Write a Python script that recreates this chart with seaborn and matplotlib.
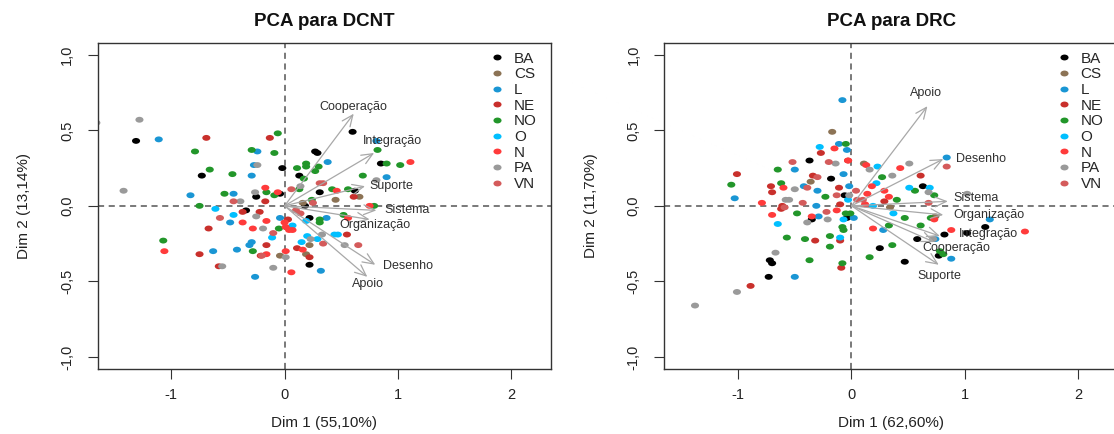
import matplotlib
matplotlib.use("Agg")
import matplotlib.pyplot as plt
from matplotlib.path import Path
from matplotlib.transforms import Affine2D
import matplotlib.ticker as mticker
import pandas as pd
import seaborn as sns

# ---- regions and colours ----
regions = ["BA", "CS", "L", "NE", "NO", "O", "N", "PA", "VN"]
region_colors = ["#000000", "#8C7355", "#1A96D4", "#C9302C", "#22962A",
                 "#00BFFF", "#FF3B3B", "#9A9A9A", "#D45B5B"]

# ---- individual scores, DCNT (Dim 1, Dim 2) ----
dcnt_BA = [(-1.31, 0.43), (-0.73, 0.20), (0.60, 0.49), (0.27, 0.36), (0.29, 0.35),
           (0.85, 0.28), (-0.02, 0.25), (0.13, 0.20), (-0.25, 0.06), (-0.04, 0.08),
           (0.31, 0.09), (0.62, 0.10), (-0.34, -0.03), (0.18, 0.00), (0.22, -0.08),
           (0.22, -0.39)]
dcnt_CS = [(0.45, 0.04), (0.66, 0.06), (0.16, 0.02), (0.22, -0.26), (-0.04, -0.33),
           (0.19, -0.32)]
dcnt_L = [(-1.11, 0.44), (-0.24, 0.36), (-0.27, 0.27), (-0.29, 0.20), (0.38, 0.29),
          (0.81, 0.43), (0.90, 0.19), (-0.83, 0.07), (-0.45, 0.08), (-0.48, -0.11),
          (-0.63, -0.30), (-0.42, -0.29), (-0.29, -0.24), (-0.31, -0.26), (-0.26, -0.47),
          (0.32, -0.43), (0.37, -0.08), (-0.04, -0.08)]
dcnt_NE = [(-0.69, 0.45), (-0.13, 0.45), (-0.17, 0.03), (-0.22, -0.04), (-0.37, -0.04),
           (-0.67, -0.15), (-0.75, -0.32), (-0.58, -0.40), (-0.16, -0.26), (-0.21, -0.33),
           (0.11, -0.28), (0.22, -0.34), (0.55, -0.19), (0.03, -0.09), (0.61, 0.06)]
dcnt_NO = [(-0.06, 0.48), (-0.79, 0.36), (-0.29, 0.37), (-0.09, 0.35), (-0.66, 0.24),
           (-0.46, 0.21), (0.82, 0.37), (0.90, 0.28), (1.02, 0.27), (0.69, 0.20),
           (0.19, 0.28), (0.19, 0.26), (0.11, 0.25), (0.30, 0.26), (0.27, 0.23),
           (0.17, 0.18), (-0.16, 0.09), (-0.09, 0.07), (-0.53, 0.08), (-0.75, 0.00),
           (0.24, 0.04), (0.56, 0.11), (0.42, 0.11), (0.79, 0.00), (0.31, -0.09),
           (0.31, -0.11), (0.52, -0.06), (0.13, 0.11), (-0.05, -0.15), (-1.07, -0.23),
           (-0.28, -0.30)]
dcnt_O = [(-0.61, -0.02), (-0.45, -0.06), (0.19, -0.10), (0.07, -0.13), (-0.11, -0.21),
          (0.15, -0.24), (0.29, -0.22), (0.44, -0.19), (0.47, -0.19), (0.20, -0.20)]
dcnt_N = [(1.11, 0.29), (0.46, 0.10), (0.56, -0.08), (0.75, 0.00), (-0.17, 0.12),
          (-0.06, 0.09), (-0.16, -0.10), (-0.37, -0.11), (-0.28, -0.15), (0.01, -0.14),
          (0.00, -0.11), (0.07, -0.16), (0.04, -0.16), (0.01, -0.30), (0.16, -0.29),
          (-0.16, -0.32), (0.06, -0.44), (-1.06, -0.30)]
dcnt_PA = [(-1.28, 0.57), (-1.66, 0.55), (-1.42, 0.10), (-0.24, 0.27), (-0.26, 0.09),
           (-0.39, 0.03), (-0.25, -0.07), (-0.19, -0.15), (0.14, 0.13), (0.81, 0.17),
           (0.23, -0.22), (0.33, -0.19), (0.53, -0.26), (0.01, -0.34), (-0.55, -0.40),
           (-0.10, -0.41)]
dcnt_VN = [(0.31, 0.15), (0.34, 0.15), (0.06, 0.11), (-0.45, 0.03), (-0.57, -0.08),
           (0.10, -0.03), (0.14, -0.05), (-0.10, -0.18), (0.34, -0.25), (0.65, -0.26),
           (-0.20, -0.33), (0.25, 0.02)]

# ---- individual scores, DRC (Dim 1, Dim 2) ----
drc_BA = [(-0.37, 0.30), (-0.18, 0.18), (-0.06, 0.07), (-0.35, -0.09), (-0.04, -0.08),
          (-0.72, -0.36), (-0.70, -0.38), (-0.73, -0.47), (0.63, 0.13), (0.82, -0.19),
          (1.02, -0.18), (1.18, -0.14), (0.58, -0.22), (0.25, -0.28), (0.47, -0.37),
          (0.77, -0.33)]
drc_CS = [(-0.17, 0.49), (-0.36, 0.16), (0.11, 0.28), (0.34, -0.01), (0.74, -0.07)]
drc_L = [(-0.08, 0.70), (-0.11, 0.41), (-0.04, 0.37), (-0.50, 0.24), (-0.07, 0.21),
         (-0.02, 0.13), (-0.30, 0.10), (-0.42, 0.13), (-1.03, 0.05), (-0.31, 0.00),
         (-0.29, -0.07), (0.02, -0.08), (-0.50, -0.47), (0.84, 0.32), (1.22, -0.09),
         (0.88, -0.35), (0.28, -0.16), (0.74, -0.22)]
drc_NE = [(-1.01, 0.21), (-0.27, 0.35), (-0.03, 0.30), (-0.34, 0.20), (-0.71, 0.13),
          (-0.70, 0.09), (-0.61, 0.00), (-0.62, -0.02), (-0.11, 0.12), (-0.10, 0.01),
          (-0.32, -0.23), (-0.10, -0.23), (-0.09, -0.41), (-0.89, -0.53), (0.61, 0.20),
          (0.29, 0.03)]
drc_NO = [(-1.06, 0.14), (-0.65, 0.24), (-0.62, 0.15), (-0.23, 0.06), (-0.05, 0.41),
          (-0.48, -0.05), (-0.57, -0.21), (-0.41, -0.22), (-0.19, -0.20), (-0.19, -0.27),
          (-0.37, -0.36), (-0.08, -0.14), (-0.07, -0.16), (-0.08, -0.38), (-0.05, -0.05),
          (-0.01, -0.05), (0.27, 0.19), (0.40, 0.04), (0.56, 0.10), (0.73, 0.07),
          (0.47, -0.08), (0.61, -0.13), (0.70, -0.08), (0.33, -0.13), (0.36, -0.26),
          (0.16, -0.34), (0.78, -0.30), (0.81, -0.32)]
drc_O = [(-0.28, 0.39), (0.23, 0.26), (0.22, 0.15), (-0.03, 0.04), (-0.65, -0.12),
         (-0.07, -0.09), (-0.10, -0.21), (0.19, 0.00), (0.51, 0.12), (0.69, 0.12),
         (0.37, -0.05)]
drc_N = [(-0.15, 0.38), (-0.03, 0.30), (0.13, 0.27), (-0.60, 0.12), (-0.79, 0.02),
         (-0.70, -0.06), (-0.35, -0.07), (-0.13, -0.03), (0.14, 0.08), (0.18, 0.13),
         (0.29, 0.10), (0.33, 0.06), (0.43, 0.25), (0.12, 0.01), (0.19, -0.15),
         (0.73, -0.09), (0.88, -0.16), (1.53, -0.17)]
drc_PA = [(-0.14, 0.28), (0.16, 0.24), (0.36, 0.20), (0.51, 0.28), (1.02, 0.08),
          (0.68, 0.09), (-0.50, 0.11), (-0.58, 0.04), (-0.55, 0.04), (-0.21, -0.09),
          (-0.39, -0.11), (-0.67, -0.31), (-1.01, -0.57), (-1.38, -0.66), (-0.02, 0.07),
          (0.72, -0.22)]
drc_VN = [(-0.52, 0.29), (-0.20, 0.29), (-0.30, 0.19), (-0.39, 0.12), (-0.43, 0.02),
          (-0.59, -0.01), (-0.13, 0.07), (0.04, 0.10), (-0.22, -0.04), (0.05, 0.04),
          (0.84, 0.26), (0.68, 0.02), (0.10, 0.04)]

# ---- variable loadings (arrows) ----
dcnt_vars = ["Cooperação", "Integração", "Suporte", "Sistema", "Organização", "Desenho", "Apoio"]
dcnt_dim1 = [0.61, 0.79, 0.71, 0.81, 0.75, 0.80, 0.73]
dcnt_dim2 = [0.61, 0.35, 0.13, -0.03, -0.09, -0.39, -0.47]

drc_vars = ["Apoio", "Desenho", "Sistema", "Organização", "Integração", "Cooperação", "Suporte"]
drc_dim1 = [0.67, 0.81, 0.85, 0.81, 0.78, 0.73, 0.77]
drc_dim2 = [0.66, 0.31, 0.03, -0.06, -0.20, -0.24, -0.39]

# label placement relative to the arrow tip, in pixels (right, up)
dcnt_label_offsets = [(0, 7), (18, 12), (26, 0), (31, 0), (5, -6), (33, -1), (1, -7)]
drc_label_offsets = [(-1, 13), (38, 0), (28, 3), (46, 0), (49, 2), (22, -6), (1, -11)]


def scores_frame(groups):
    rows = []
    for region, pts in zip(regions, groups):
        for d1, d2 in pts:
            rows.append({"Dim1": d1, "Dim2": d2, "Regiao": region})
    return pd.DataFrame(rows)


dcnt_scores = scores_frame([dcnt_BA, dcnt_CS, dcnt_L, dcnt_NE, dcnt_NO,
                            dcnt_O, dcnt_N, dcnt_PA, dcnt_VN])
drc_scores = scores_frame([drc_BA, drc_CS, drc_L, drc_NE, drc_NO,
                           drc_O, drc_N, drc_PA, drc_VN])

sns.set_style("white")
plt.rcParams["font.family"] = ["Liberation Sans", "DejaVu Sans"]

# slightly wide dots
dot = Path.unit_circle().transformed(Affine2D().scale(1.38, 1.0))

W, H = 1114, 434
fig = plt.figure(figsize=(W / 100, H / 100), dpi=100)
box_w = 453.5
ax_l = fig.add_axes([97.5 / W, 1 - 369 / H, box_w / W, (369 - 42.7) / H])
ax_r = fig.add_axes([664.4 / W, 1 - 369 / H, box_w / W, (369 - 42.7) / H])


def comma_fmt(v, _pos):
    return f"{v:.1f}".replace(".", ",")


def int_fmt(v, _pos):
    return f"{v:.0f}"


def draw_panel(ax, frame, names, d1, d2, offsets, title, xlab, ylab):
    ax.axhline(0, color="#555555", lw=1.1, ls=(0, (4, 3)), zorder=1)
    ax.axvline(0, color="#555555", lw=1.1, ls=(0, (4, 3)), zorder=1)
    sns.scatterplot(data=frame, x="Dim1", y="Dim2", hue="Regiao",
                    hue_order=regions, palette=region_colors, s=34,
                    marker=dot, linewidth=0, ax=ax, zorder=2)
    for name, x, y, (dx, dy) in zip(names, d1, d2, offsets):
        ax.annotate("", xy=(x, y), xytext=(0, 0),
                    arrowprops=dict(arrowstyle="->,head_length=0.8,head_width=0.35",
                                    color="#A8A8A8", lw=0.9, shrinkA=0, shrinkB=0,
                                    mutation_scale=10),
                    zorder=3)
        ax.annotate(name, xy=(x, y), xytext=(dx * 0.72, dy * 0.72),
                    textcoords="offset points", ha="center", va="center",
                    fontsize=9, color="#303030", zorder=4)

    ax.set_xlim(-1.65, 2.35)
    ax.set_ylim(-1.08, 1.08)
    ax.set_xticks([-1, 0, 1, 2])
    ax.set_yticks([-1.0, -0.5, 0.0, 0.5, 1.0])
    ax.xaxis.set_major_formatter(mticker.FuncFormatter(int_fmt))
    ax.yaxis.set_major_formatter(mticker.FuncFormatter(comma_fmt))
    ax.tick_params(axis="both", which="major", bottom=True, left=True,
                   direction="out", length=7, width=0.8, color="#333333",
                   labelsize=10.5, labelcolor="#222222")
    ax.tick_params(axis="x", pad=7)
    ax.tick_params(axis="y", pad=10)
    for lab in ax.get_yticklabels():
        lab.set_rotation(90)
        lab.set_va("center")
    for sp in ax.spines.values():
        sp.set_color("#333333")
        sp.set_linewidth(1.0)

    ax.set_title(title, fontsize=13.5, fontweight="bold", pad=12, color="#111111")
    ax.set_xlabel(xlab, fontsize=11, labelpad=10, color="#222222")
    ax.set_ylabel(ylab, fontsize=11, labelpad=21, color="#222222")

    sns.move_legend(ax, "upper left", bbox_to_anchor=(0.864, 0.973),
                    frameon=False, title=None, fontsize=11,
                    handlelength=1.0, handletextpad=0.6, labelspacing=0.11,
                    borderpad=0, borderaxespad=0)


draw_panel(ax_l, dcnt_scores, dcnt_vars, dcnt_dim1, dcnt_dim2, dcnt_label_offsets,
           "PCA para DCNT", "Dim 1 (55,10%)", "Dim 2 (13,14%)")
draw_panel(ax_r, drc_scores, drc_vars, drc_dim1, drc_dim2, drc_label_offsets,
           "PCA para DRC", "Dim 1 (62,60%)", "Dim 2 (11,70%)")

fig.savefig("out.png", dpi=100)
